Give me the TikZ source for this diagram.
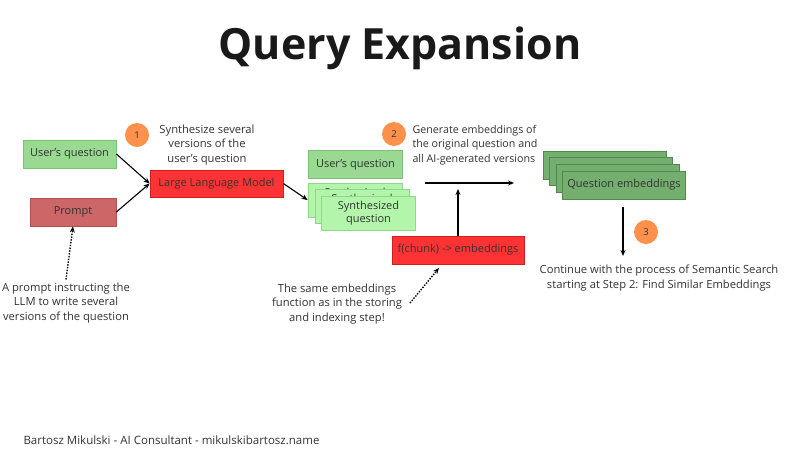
\documentclass[tikz,border=0pt]{standalone}
\usepackage{fontspec}
\setmainfont{Open Sans}
\usetikzlibrary{arrows.meta}
\definecolor{txt}{HTML}{333333}
\definecolor{lgreen}{HTML}{99D992}
\definecolor{lgreenb}{HTML}{7FBF78}
\definecolor{pale}{HTML}{B3F5AB}
\definecolor{paleb}{HTML}{93D58B}
\definecolor{dgreen}{HTML}{74AF70}
\definecolor{dgreenb}{HTML}{4E8A4A}
\definecolor{prompt}{HTML}{CD6767}
\definecolor{promptb}{HTML}{B05050}
\definecolor{red1}{HTML}{FF3333}
\definecolor{red1b}{HTML}{CC1F1F}
\definecolor{orng}{HTML}{FF914D}
\tikzset{
  box/.style={draw, line width=0.8pt, minimum height=28pt, inner sep=0pt, align=center, font=\fontsize{11}{13}\selectfont, text=txt},
  greenbox/.style={box, fill=lgreen, draw=lgreenb},
  palebox/.style={box, fill=pale, draw=paleb, minimum width=94pt, minimum height=34pt},
  qebox/.style={box, fill=dgreen, draw=dgreenb, minimum width=123pt},
  redbox/.style={box, fill=red1, draw=red1b},
  num/.style={circle, fill=orng, minimum size=24pt, inner sep=0pt, font=\fontsize{9.5}{11}\selectfont, text=txt},
  note/.style={align=center, font=\fontsize{11.2}{14.4}\selectfont, text=txt},
  arr/.style={-{Stealth[length=6pt,width=5pt]}, line width=1.1pt, black},
  darr/.style={-{Stealth[length=6pt,width=5pt]}, line width=1.4pt, black, dash pattern=on 1.4pt off 1.4pt}
}
\begin{document}
\begin{tikzpicture}[x=1pt,y=-1pt]
\useasboundingbox[fill=white] (0,0) rectangle (800,450);
\node[font=\fontsize{43}{50}\bfseries\selectfont, text=black!90] (title) at (400,48) {Query Expansion};

% left part
\node[greenbox, minimum width=93pt] (uq) at (69.5,154) {User's question};
\node[box, fill=prompt, draw=promptb, minimum width=86pt] (pr) at (73,212) {Prompt};
\node[redbox, minimum width=133pt, minimum height=27pt] (llm) at (216.5,183.5) {Large Language Model};
\node[num] (n1) at (137,135) {1};
\node[note] (t1) at (207,145) {Synthesize several\\versions of the\\user's question};
\node[note] (pnote) at (66,303) {A prompt instructing the\\LLM to write several\\versions of the question};
\draw[arr] (uq.east) -- (llm.west);
\draw[arr] (pr.east) -- (llm.west);
\draw[darr] (pnote.north) -- (pr.south);

% middle part
\node[greenbox, minimum width=94pt] (uq2) at (355.5,164.5) {User's question};
\node[palebox] (s1) at (355,200) {Synthesized\\question};
\node[palebox] (s2) at (362,206.5) {Synthesized\\question};
\node[palebox] (s3) at (368.5,213) {Synthesized\\question};
\draw[arr] (llm.east) -- (s1.west);
\node[num] (n2) at (394,134) {2};
\node[note, align=left, anchor=west, font=\fontsize{10.7}{14.4}\selectfont] (t2) at (409,145) {Generate embeddings of\\the original question and\\all AI-generated versions};
\coordinate (h1) at (425,183);
\coordinate (h2) at (514,183);
\draw[arr] (h1) -- (h2);
\node[redbox, minimum width=132pt] (fc) at (458,250) {f(chunk) -> embeddings};
\coordinate (v1) at (458,189);
\draw[arr] (fc.north) -- (v1);
\node[note] (fnote) at (337,304) {The same embeddings\\function as in the storing\\and indexing step!};
\coordinate (d1) at (410,303);
\coordinate (d2) at (439,268);
\draw[darr] (d1) -- (d2);

% right part
\node[qebox] (q1) at (604.5,165) {};
\node[qebox] (q2) at (611,171.5) {};
\node[qebox] (q3) at (617.5,178) {};
\node[qebox] (q4) at (624,185) {Question embeddings};
\coordinate (w1) at (623,207);
\coordinate (w2) at (623,256);
\draw[arr] (w1) -- (w2);
\node[num] (n3) at (646,232) {3};
\node[note] (t3) at (659,278) {Continue with the process of Semantic Search\\starting at Step 2: Find Similar Embeddings};

\node[anchor=west, font=\fontsize{11.5}{13}\selectfont, text=txt] (foot) at (20,440) {Bartosz Mikulski - AI Consultant - mikulskibartosz.name};
\end{tikzpicture}
\end{document}
